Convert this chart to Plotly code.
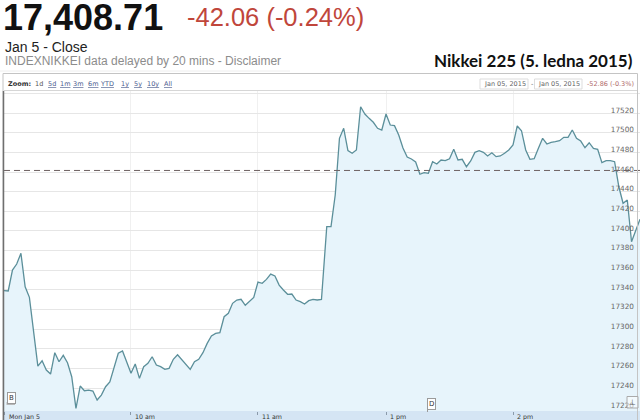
import pandas as pd
import plotly.graph_objects as go

# ---------------- data ----------------
morning_values = [
    17339.3, 17339.0, 17360.3, 17366.4, 17377.3, 17343.3, 17332.5, 17296.2, 17262.6, 17268.0,
    17258.6, 17254.5, 17276.2, 17267.0, 17273.5, 17266.0, 17251.8, 17219.6, 17242.3, 17237.5,
    17238.2, 17237.2, 17228.1, 17233.1, 17241.6, 17246.4, 17262.0, 17275.6, 17277.9, 17267.0,
    17255.2, 17264.7, 17250.1, 17262.0, 17265.4, 17272.1, 17263.7, 17262.0, 17259.3, 17260.3,
    17269.5, 17274.1, 17269.5, 17264.7, 17259.3, 17267.0, 17269.5, 17276.2, 17285.7, 17293.2,
    17295.9, 17296.5, 17312.8, 17316.3, 17326.4, 17329.8, 17330.5, 17324.4, 17328.1, 17332.5,
    17348.1, 17346.8, 17350.8, 17356.2, 17354.2, 17345.0, 17340.0, 17335.6, 17335.9, 17329.8,
    17328.1, 17325.7, 17329.1, 17330.5, 17329.8, 17330.5,
]
afternoon_values = [
    17404.4, 17404.4, 17436.6, 17494.3, 17504.5, 17481.7, 17479.0, 17482.4, 17526.4, 17519.0,
    17514.6, 17510.6, 17504.5, 17502.7, 17519.0, 17507.8, 17507.1, 17497.6, 17484.4, 17475.3,
    17473.2, 17470.2, 17457.7, 17459.3, 17458.7, 17470.5, 17468.1, 17472.2, 17471.5, 17473.5,
    17483.1, 17472.2, 17472.9, 17465.4, 17471.2, 17480.0, 17481.7, 17480.0, 17476.3, 17479.6,
    17475.6, 17476.3, 17479.0, 17482.4, 17487.5, 17506.8, 17502.0, 17482.4, 17472.9, 17473.5,
    17484.1, 17494.3, 17488.5, 17490.2, 17490.8, 17491.8, 17495.3, 17495.3, 17502.7, 17494.3,
    17491.5, 17484.7, 17489.8, 17484.1, 17483.1, 17469.5, 17471.5, 17471.5, 17470.5, 17445.0,
    17428.2, 17431.5, 17389.1, 17401.0, 17412.0,
]
morning_times = pd.date_range("2015-01-05 09:00", "2015-01-05 11:30", freq="2min")
afternoon_times = pd.date_range("2015-01-05 12:32", "2015-01-05 15:00", freq="2min")

prev_close = 17461.57
y_tick_values = [17220, 17240, 17260, 17280, 17300, 17320, 17340, 17360, 17380,
                 17400, 17420, 17440, 17460, 17480, 17500, 17520, 17540]
x_tick_times = ["2015-01-05 09:00", "2015-01-05 10:00", "2015-01-05 11:00",
                "2015-01-05 13:00", "2015-01-05 14:00"]
x_tick_labels = ["Mon Jan 5", "10 am", "11 am", "1 pm", "2 pm"]
zoom_links = ["1d", "5d", "1m", "3m", "6m", "YTD", "1y", "5y", "10y", "All"]

last_price = "17,408.71"
change_text = "-42.06 (-0.24%)"
range_change = "-52.86 (-0.3%)"
title_text = "Nikkei 225 (5. ledna 2015)"

# ---------------- layout helpers ----------------
W, H = 640, 420
L, R, T, B = 4, 0, 91, 9
PW, PH = W - L - R, H - T - B


def px(x):
    return (x - L) / PW


def py(y):
    return (H - B - y) / PH


times = list(morning_times) + list(afternoon_times)
values = morning_values + afternoon_values

fig = go.Figure()
fig.add_trace(go.Scatter(
    x=times, y=values, mode="lines",
    line=dict(color="#5b8f9a", width=1.3),
    fill="tozeroy", fillcolor="#e7f4fb",
    hoverinfo="skip", showlegend=False,
))

SANS = "Liberation Sans, Arial, sans-serif"
SMALL = "DejaVu Sans, Verdana, sans-serif"

ann = []
# header
ann.append(dict(text=f"<b>{last_price}</b>", x=px(2), y=py(17), xanchor="left", yanchor="middle",
                font=dict(family=SANS, size=36, color="#111111")))
ann.append(dict(text=change_text, x=px(186), y=py(17), xanchor="left", yanchor="middle",
                font=dict(family=SANS, size=25.5, color="#c0463b")))
ann.append(dict(text="Jan 5 - Close", x=px(3.5), y=py(47), xanchor="left", yanchor="middle",
                font=dict(family=SANS, size=14, color="#222222")))
ann.append(dict(text="INDEXNIKKEI data delayed by 20 mins - Disclaimer", x=px(3.5), y=py(61),
                xanchor="left", yanchor="middle", font=dict(family=SANS, size=12, color="#8c8c8c")))
ann.append(dict(text=f"<b>{title_text}</b>", x=px(634), y=py(60.5), xanchor="right", yanchor="middle",
                font=dict(family="Lato, sans-serif", size=17, color="#111111")))

# zoom bar
ann.append(dict(text="<b>Zoom:</b>", x=px(6.5), y=py(84), xanchor="left", yanchor="middle",
                font=dict(family=SMALL, size=6.5, color="#333333")))
link_x = [34, 46.5, 58.5, 71.5, 87, 99, 120.5, 132.5, 145.5, 162.5]
for lbl, lx in zip(zoom_links, link_x):
    t = lbl if lbl == "1d" else f"<u>{lbl}</u>"
    ann.append(dict(text=t, x=px(lx), y=py(84), xanchor="left", yanchor="middle",
                    font=dict(family=SMALL, size=6.5, color="#555555" if lbl == "1d" else "#4d5d8f")))
ann.append(dict(text="Jan 05, 2015", x=px(483), y=py(84), xanchor="left", yanchor="middle",
                font=dict(family=SMALL, size=6.5, color="#666666")))
ann.append(dict(text="-", x=px(530), y=py(84), xanchor="left", yanchor="middle",
                font=dict(family=SMALL, size=6.5, color="#666666")))
ann.append(dict(text="Jan 05, 2015", x=px(537), y=py(84), xanchor="left", yanchor="middle",
                font=dict(family=SMALL, size=6.5, color="#666666")))
ann.append(dict(text=range_change, x=px(586), y=py(84), xanchor="left", yanchor="middle",
                font=dict(family=SMALL, size=6.5, color="#b06a6a")))

# bottom time band labels
for tt, lbl in zip(x_tick_times, x_tick_labels):
    ann.append(dict(text=lbl, x=tt, xref="x", y=py(416.5), yref="paper", xanchor="left", yanchor="middle",
                    xshift=3 if lbl != "Mon Jan 5" else 4,
                    font=dict(family=SMALL, size=6.3, color="#333333")))

# event markers
ann.append(dict(text="B", x=px(7), y=py(391.5), xanchor="left", yanchor="top",
                font=dict(family=SMALL, size=7, color="#333333"),
                bordercolor="#9a9a9a", borderwidth=1, borderpad=1, bgcolor="#ffffff"))
ann.append(dict(text="D", x=px(427), y=py(397.5), xanchor="left", yanchor="top",
                font=dict(family=SMALL, size=7, color="#333333"),
                bordercolor="#9a9a9a", borderwidth=1, borderpad=1, bgcolor="#ffffff"))
ann.append(dict(text="⊥", x=px(632.5), y=py(402), xanchor="center", yanchor="middle",
                font=dict(family=SMALL, size=8, color="#666666")))

for a in ann:
    a.setdefault("xref", "paper")
    a.setdefault("yref", "paper")
    a["showarrow"] = False
    a.setdefault("borderpad", 0)

shapes = [
    dict(type="line", xref="paper", x0=0, x1=1, yref="y", y0=prev_close, y1=prev_close,
         line=dict(color="#6e6262", width=1, dash="6px,4px"), layer="above"),
    dict(type="rect", xref="paper", x0=px(4), x1=px(640), yref="paper", y0=py(425), y1=py(411),
         fillcolor="#d5e5f4", line=dict(width=0), layer="below"),
    dict(type="rect", xref="paper", x0=px(4), x1=px(637.5), yref="paper", y0=py(90.5), y1=py(74),
         fillcolor="#ffffff", line=dict(width=0), layer="above"),
    dict(type="line", xref="paper", x0=px(4), x1=px(637.5), yref="paper", y0=py(90.5), y1=py(90.5),
         line=dict(color="#d6d6d6", width=1), layer="above"),
    dict(type="rect", xref="paper", x0=px(3), x1=px(637.5), yref="paper", y0=py(430), y1=py(73.5),
         fillcolor="rgba(0,0,0,0)", line=dict(color="#c4c4c4", width=1), layer="above"),
    dict(type="line", xref="paper", x0=px(3.5), x1=px(3.5), yref="paper", y0=py(425), y1=py(91),
         line=dict(color="#6f6f6f", width=1.5), layer="above"),
    dict(type="line", xref="paper", x0=px(0), x1=px(290), yref="paper", y0=py(71), y1=py(71),
         line=dict(color="#eeeeee", width=1), layer="above"),
    dict(type="rect", xref="paper", x0=px(480), x1=px(528), yref="paper", y0=py(89), y1=py(79),
         fillcolor="rgba(0,0,0,0)", line=dict(color="#dddddd", width=1), layer="above"),
    dict(type="rect", xref="paper", x0=px(534.5), x1=px(582), yref="paper", y0=py(89), y1=py(79),
         fillcolor="rgba(0,0,0,0)", line=dict(color="#dddddd", width=1), layer="above"),
    dict(type="rect", xref="paper", x0=px(6.5), x1=px(15), yref="paper", y0=py(405), y1=py(402),
         fillcolor="#b8b8b8", line=dict(width=0), layer="above"),
    dict(type="line", xref="paper", x0=px(427.5), x1=px(427.5), yref="paper", y0=py(412), y1=py(407),
         line=dict(color="#9a9a9a", width=1), layer="above"),
    dict(type="rect", xref="paper", x0=px(627), x1=px(638), yref="paper", y0=py(408), y1=py(396.5),
         fillcolor="rgba(255,255,255,0.5)", line=dict(color="#aaaaaa", width=1), layer="above"),
]

fig.update_layout(
    width=W, height=H,
    margin=dict(l=L, r=R, t=T, b=B, pad=0),
    paper_bgcolor="#ffffff", plot_bgcolor="#ffffff",
    showlegend=False,
    annotations=ann, shapes=shapes,
    xaxis=dict(
        type="date",
        range=["2015-01-05 09:00", "2015-01-05 15:00"],
        rangebreaks=[dict(bounds=["2015-01-05 11:30:30", "2015-01-05 12:30"])],
        tickvals=x_tick_times, showticklabels=False,
        ticks="outside", ticklen=3, tickcolor="#8a9aaa", tickwidth=1,
        showgrid=True, gridcolor="#f0f0f0", gridwidth=1,
        zeroline=False, showline=False, fixedrange=True,
    ),
    yaxis=dict(
        side="right",
        range=[17216.9, 17542.4],
        tickvals=y_tick_values,
        tickformat="d",
        ticklabelposition="inside",
        ticklabelstandoff=3,
        ticklabelshift=-3,
        tickfont=dict(family=SMALL, size=7.3, color="#666666"),
        ticks="",
        showgrid=True, gridcolor="#e6e6e6", gridwidth=1,
        zeroline=False, showline=False, fixedrange=True,
    ),
)

fig.write_html(
    "out.html",
    config={"displayModeBar": False},
    post_script="document.body.style.margin='0';document.body.style.overflow='hidden';",
)
